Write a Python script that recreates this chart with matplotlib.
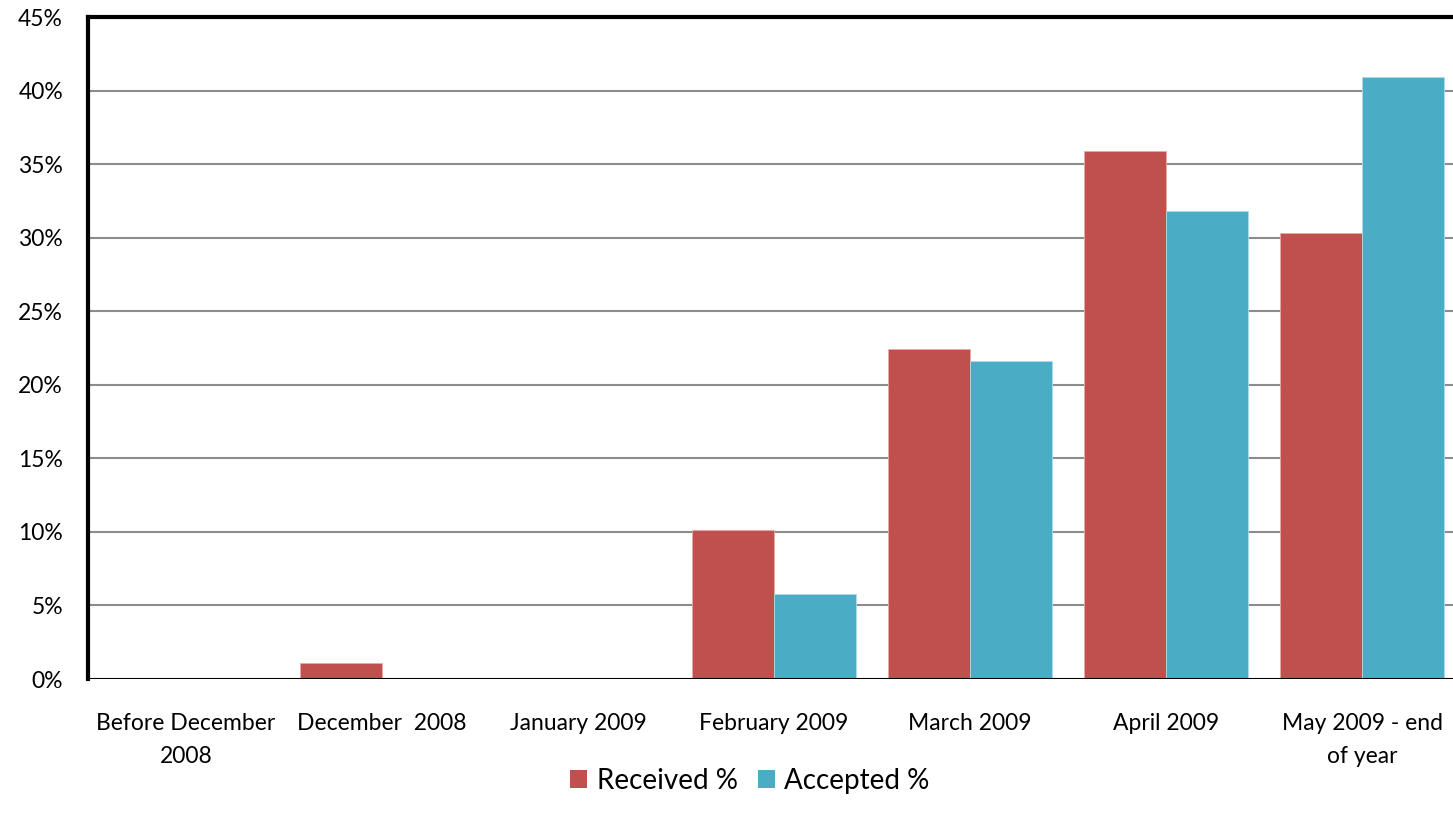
import matplotlib
matplotlib.use("Agg")
import matplotlib.pyplot as plt
from matplotlib.patches import Patch
import numpy as np

plt.rcParams['font.family'] = ['Lato', 'DejaVu Sans']

categories = ["Before December\n2008", "December  2008", "January 2009", "February 2009",
              "March 2009", "April 2009", "May 2009 - end\nof year"]
received = [0.0, 1.1, 0.0, 10.1, 22.4, 35.9, 30.3]
accepted = [0.0, 0.0, 0.0, 5.8, 21.6, 31.8, 40.9]
yticks = [0, 5, 10, 15, 20, 25, 30, 35, 40, 45]
series_names = ["Received %", "Accepted %"]

red = "#C0504D"
blue = "#4BACC6"

W, H = 1453, 825
fig = plt.figure(figsize=(W / 100, H / 100), dpi=100)
ax = fig.add_axes([88 / W, (H - 679) / H, 1372 / W, 662 / H])

x = np.arange(len(categories))
bw = 0.418
ax.bar(x - bw / 2, received, width=bw, color=red, edgecolor="#E8A9A7", linewidth=0.6, zorder=3)
ax.bar(x + bw / 2, accepted, width=bw, color=blue, edgecolor="#A9DCE8", linewidth=0.6, zorder=3)

ax.set_xlim(-0.5, len(categories) - 0.5)
ax.set_ylim(0, 45)
ax.set_yticks(yticks)
ax.set_yticklabels([f"{v}%" for v in yticks], fontsize=16.5)
ax.set_xticks(x)
ax.set_xticklabels(categories, fontsize=16.5, linespacing=1.72)
ax.tick_params(axis="both", length=0)
ax.tick_params(axis="y", pad=18)
ax.tick_params(axis="x", pad=24.5)

ax.yaxis.grid(True, color="#8C8C8C", linewidth=1.5, zorder=0)
ax.set_axisbelow(True)
ax.axhline(0, color="black", linewidth=2.2, zorder=4)

for side in ["top", "left", "right"]:
    ax.spines[side].set_linewidth(3)
    ax.spines[side].set_color("black")
ax.spines["bottom"].set_visible(False)

handles = [Patch(facecolor=red, edgecolor="none"), Patch(facecolor=blue, edgecolor="none")]
fig.legend(handles, series_names, loc="center", bbox_to_anchor=(750 / W, 1 - 781 / H),
           ncol=2, frameon=False, fontsize=20, handlelength=0.62, handleheight=0.62,
           handletextpad=0.35, columnspacing=0.7)

fig.savefig("out.png", dpi=100)
